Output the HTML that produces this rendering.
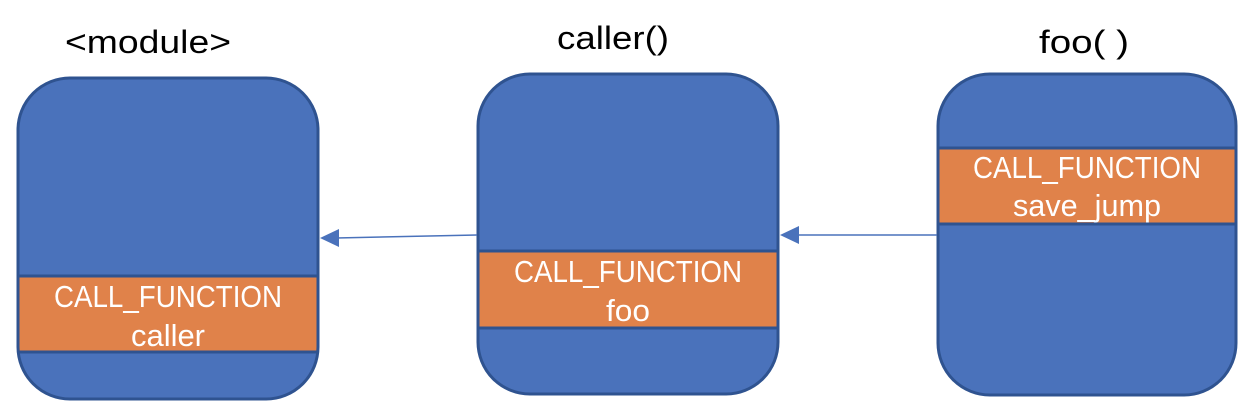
<!DOCTYPE html>
<html><head><meta charset="utf-8"><style>html,body{margin:0;padding:0;background:#fff}svg{display:block}</style></head>
<body>
<svg width="1254" height="420" viewBox="0 0 1254 420" xmlns="http://www.w3.org/2000/svg" font-family="Liberation Sans, sans-serif">
<defs>
<clipPath id="c1"><rect x="18" y="78" width="300" height="321" rx="52"/></clipPath>
<clipPath id="c2"><rect x="478" y="74" width="300" height="320" rx="52"/></clipPath>
<clipPath id="c3"><rect x="938" y="74" width="298" height="321" rx="52"/></clipPath>
</defs>
<g font-size="32" fill="#000" text-anchor="middle">
<text x="148" y="53" textLength="166" lengthAdjust="spacingAndGlyphs">&lt;module&gt;</text>
<text x="613" y="49" textLength="112" lengthAdjust="spacingAndGlyphs">caller()</text>
<text x="1084" y="53" textLength="90" lengthAdjust="spacingAndGlyphs">foo( )</text>
</g>
<!-- box1 -->
<rect x="18" y="78" width="300" height="321" rx="52" fill="#4a72bb"/>
<g clip-path="url(#c1)">
<rect x="0" y="276" width="340" height="76" fill="#e0824a"/>
<line x1="0" y1="276" x2="340" y2="276" stroke="#2f5390" stroke-width="3"/>
<line x1="0" y1="352" x2="340" y2="352" stroke="#2f5390" stroke-width="3"/>
</g>
<rect x="18" y="78" width="300" height="321" rx="52" fill="none" stroke="#2f5390" stroke-width="3"/>
<g font-size="31" fill="#fff" text-anchor="middle">
<text x="168" y="307" textLength="228" lengthAdjust="spacingAndGlyphs">CALL_FUNCTION</text>
<text x="168" y="346" textLength="74" lengthAdjust="spacingAndGlyphs">caller</text>
</g>
<!-- box2 -->
<rect x="478" y="74" width="300" height="320" rx="52" fill="#4a72bb"/>
<g clip-path="url(#c2)">
<rect x="460" y="251" width="340" height="77" fill="#e0824a"/>
<line x1="460" y1="251" x2="800" y2="251" stroke="#2f5390" stroke-width="3"/>
<line x1="460" y1="328" x2="800" y2="328" stroke="#2f5390" stroke-width="3"/>
</g>
<rect x="478" y="74" width="300" height="320" rx="52" fill="none" stroke="#2f5390" stroke-width="3"/>
<g font-size="31" fill="#fff" text-anchor="middle">
<text x="628" y="282" textLength="228" lengthAdjust="spacingAndGlyphs">CALL_FUNCTION</text>
<text x="628" y="321" textLength="44" lengthAdjust="spacingAndGlyphs">foo</text>
</g>
<!-- box3 -->
<rect x="938" y="74" width="298" height="321" rx="52" fill="#4a72bb"/>
<g clip-path="url(#c3)">
<rect x="920" y="148" width="340" height="76" fill="#e0824a"/>
<line x1="920" y1="148" x2="1260" y2="148" stroke="#2f5390" stroke-width="3"/>
<line x1="920" y1="224" x2="1260" y2="224" stroke="#2f5390" stroke-width="3"/>
</g>
<rect x="938" y="74" width="298" height="321" rx="52" fill="none" stroke="#2f5390" stroke-width="3"/>
<g font-size="31" fill="#fff" text-anchor="middle">
<text x="1087" y="178" textLength="228" lengthAdjust="spacingAndGlyphs">CALL_FUNCTION</text>
<text x="1087" y="216" textLength="148" lengthAdjust="spacingAndGlyphs">save_jump</text>
</g>
<!-- arrows -->
<line x1="477" y1="235" x2="336" y2="238" stroke="#4a72bb" stroke-width="1.5"/>
<polygon points="320,238 339,229 339,247" fill="#4a72bb"/>
<line x1="937" y1="235" x2="796" y2="235" stroke="#4a72bb" stroke-width="1.5"/>
<polygon points="780,235 799,226 799,244" fill="#4a72bb"/>
</svg>
</body></html>
